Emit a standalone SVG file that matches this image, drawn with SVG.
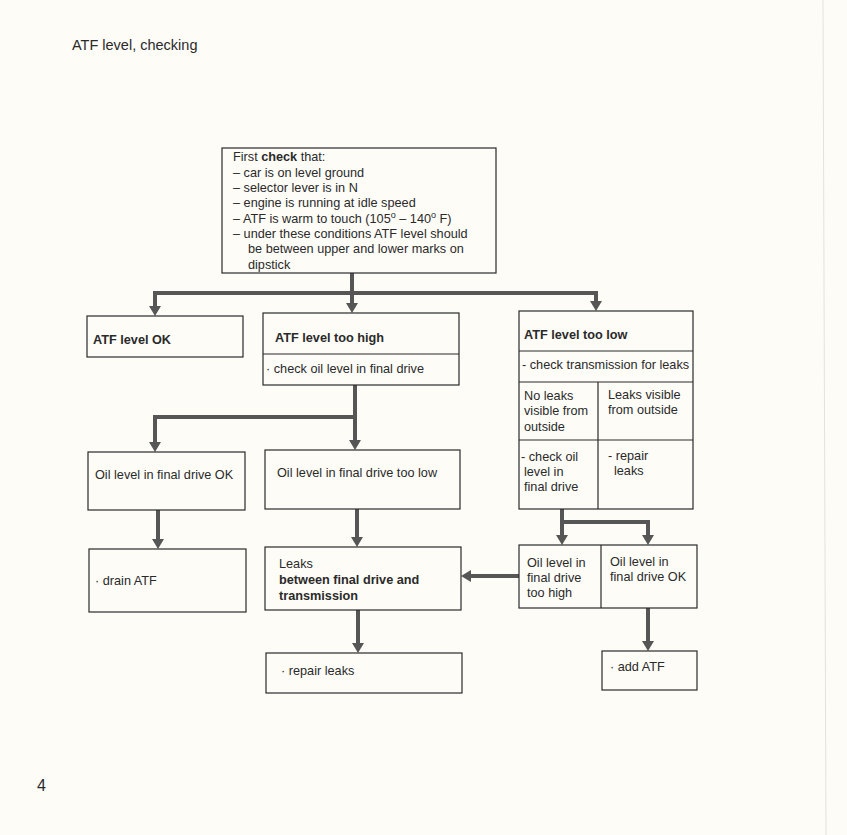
<svg xmlns="http://www.w3.org/2000/svg" width="847" height="835" viewBox="0 0 847 835">
<style>
text{font-family:"Liberation Sans",Arial,sans-serif;font-size:12.7px;fill:#2a2a2a}
.b{font-weight:bold}
.box{fill:none;stroke:#2a2a2a;stroke-width:1.2}
.con{fill:none;stroke:#565656;stroke-width:4;stroke-linejoin:miter}
</style>
<defs>
<marker id="ah" viewBox="0 0 10 12" refX="0" refY="6" markerWidth="10" markerHeight="12" markerUnits="userSpaceOnUse" orient="auto">
<path d="M0,0 L10,6 L0,12 z" fill="#565656"/>
</marker>
</defs>
<rect width="847" height="835" fill="#fdfcf7"/>
<line x1="823" y1="0" x2="826" y2="835" stroke="#e4e2da" stroke-width="1"/>
<text x="72" y="50" style="font-size:14.5px">ATF level, checking</text>
<text x="37" y="791" style="font-size:16px">4</text>

<g id="connectors">
<path class="con" d="M352 273 V303" marker-end="url(#ah)"/>
<path class="con" d="M352 293 H155 V306" marker-end="url(#ah)"/>
<path class="con" d="M352 293 H596 V301" marker-end="url(#ah)"/>
<path class="con" d="M355 385 V440" marker-end="url(#ah)"/>
<path class="con" d="M355 417 H155 V442" marker-end="url(#ah)"/>
<path class="con" d="M158 510 V539" marker-end="url(#ah)"/>
<path class="con" d="M357 509 V537" marker-end="url(#ah)"/>
<path class="con" d="M358 610 V643" marker-end="url(#ah)"/>
<path class="con" d="M562 509 V535" marker-end="url(#ah)"/>
<path class="con" d="M562 522 H648 V535" marker-end="url(#ah)"/>
<path class="con" d="M519 576 H471" marker-end="url(#ah)"/>
<path class="con" d="M648 608 V641" marker-end="url(#ah)"/>
</g>

<g id="first-check">
<rect class="box" x="222" y="148" width="274" height="125"/>
<text x="233" y="161">First <tspan class="b">check</tspan> that:</text>
<text x="233" y="177">– car is on level ground</text>
<text x="233" y="192">– selector lever is in N</text>
<text x="233" y="207">– engine is running at idle speed</text>
<text x="233" y="223">– ATF is warm to touch (105<tspan dy="-5" style="font-size:9px">o</tspan><tspan dy="5"> – 140</tspan><tspan dy="-5" style="font-size:9px">o</tspan><tspan dy="5"> F)</tspan></text>
<text x="233" y="238">– under these conditions ATF level should</text>
<text x="248" y="253">be between upper and lower marks on</text>
<text x="248" y="269">dipstick</text>
</g>

<g id="atf-ok">
<rect class="box" x="87" y="316" width="156" height="41"/>
<text x="93" y="344" class="b">ATF level OK</text>
</g>

<g id="atf-too-high">
<rect class="box" x="263" y="313" width="196" height="72"/>
<line class="box" x1="263" y1="354" x2="459" y2="354"/>
<text x="275" y="342" class="b">ATF level too high</text>
<text x="266" y="373">· check oil level in final drive</text>
</g>

<g id="atf-too-low">
<rect class="box" x="519" y="311" width="174" height="198"/>
<line class="box" x1="519" y1="351" x2="693" y2="351"/>
<line class="box" x1="519" y1="382" x2="693" y2="382"/>
<line class="box" x1="519" y1="440" x2="693" y2="440"/>
<line class="box" x1="598" y1="382" x2="598" y2="509"/>
<text x="524" y="339" class="b">ATF level too low</text>
<text x="522" y="369">- check transmission for leaks</text>
<text x="524" y="400">No leaks</text>
<text x="524" y="415">visible from</text>
<text x="524" y="431">outside</text>
<text x="608" y="399">Leaks visible</text>
<text x="608" y="414">from outside</text>
<text x="521" y="461">- check oil</text>
<text x="524" y="476">level in</text>
<text x="524" y="491">final drive</text>
<text x="608" y="460">- repair</text>
<text x="614" y="475">leaks</text>
</g>

<g id="oil-ok">
<rect class="box" x="88" y="452" width="157" height="58"/>
<text x="95" y="479">Oil level in final drive OK</text>
</g>

<g id="oil-too-low">
<rect class="box" x="265" y="450" width="195" height="59"/>
<text x="277" y="477">Oil level in final drive too low</text>
</g>

<g id="drain-atf">
<rect class="box" x="89" y="549" width="157" height="63"/>
<text x="95" y="585">· drain ATF</text>
</g>

<g id="leaks-between">
<rect class="box" x="265" y="547" width="196" height="63"/>
<text x="279" y="568">Leaks</text>
<text x="279" y="584" class="b">between final drive and</text>
<text x="279" y="600" class="b">transmission</text>
</g>

<g id="repair-leaks">
<rect class="box" x="266" y="653" width="196" height="40"/>
<text x="281" y="675">· repair leaks</text>
</g>

<g id="oil-high-ok">
<rect class="box" x="519" y="545" width="178" height="63"/>
<line class="box" x1="601" y1="545" x2="601" y2="608"/>
<text x="527" y="567">Oil level in</text>
<text x="527" y="582">final drive</text>
<text x="527" y="597">too high</text>
<text x="610" y="566">Oil level in</text>
<text x="610" y="581">final drive OK</text>
</g>

<g id="add-atf">
<rect class="box" x="602" y="651" width="95" height="39"/>
<text x="610" y="671">· add ATF</text>
</g>
</svg>
